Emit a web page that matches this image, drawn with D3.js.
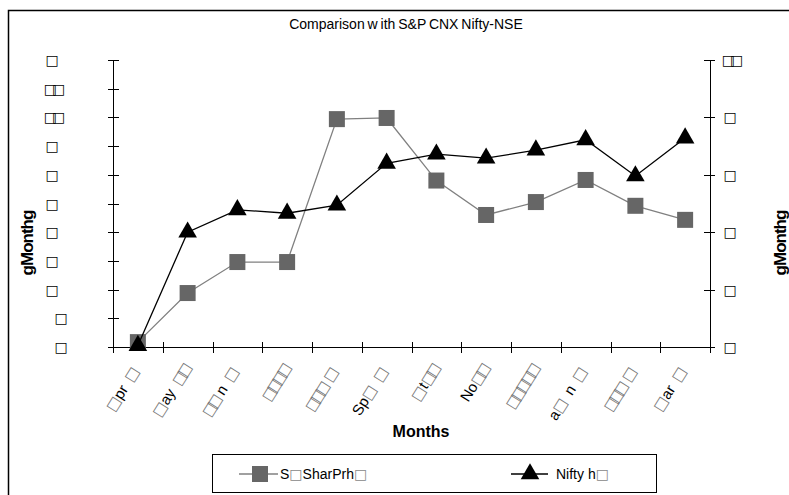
<!DOCTYPE html>
<html>
<head>
    <title>Comparison with S&P CNX Nifty-NSE</title>
    <script src="https://d3js.org/d3.v7.min.js"></script>
    <style>
        body {
            margin: 0;
            background: #fff;
            font-family: "Liberation Sans", Arial, sans-serif;
        }
        text {
            font-family: "Liberation Sans", Arial, sans-serif;
        }
    </style>
</head>
<body>
<div id="chart"></div>
<script>
    // data
    const BOX = "\u25A1";
    const months = ["Apr", "May", "Jun", "Jul", "Aug", "Sep", "Oct", "Nov", "Dec", "Jan", "Feb", "Mar"];
    // tick labels as they appear ('#' = missing glyph shown as a box)
    const monthLabels = ["#pr #", "#ay ##", "## n #", "####", "### #", "Sp# #",
        "#t##", "No##", "#####", "a# n #", "### #", "#ar #"];
    const sharePrice = [0.17, 1.88, 2.96, 2.96, 7.94, 7.98, 5.8, 4.6, 5.05, 5.82, 4.92, 4.43];
    const nifty = [0.05, 4.0, 4.78, 4.66, 4.94, 6.4, 6.72, 6.58, 6.86, 7.22, 5.96, 7.28];

    const leftTicks = [0, 1, 2, 3, 4, 5, 6, 7, 8, 9, 10];
    const leftTickLabels = ["#", "#", "#", "#", "#", "#", "#", "#", "##", "##", "#"];
    const rightTicks = [0, 2, 4, 6, 8, 10];
    const rightTickLabels = ["#", "#", "#", "#", "#", "##"];

    const width = 789, height = 495;
    const plot = { left: 113, right: 710, top: 60, bottom: 347 };

    const svg = d3.select("#chart")
        .append("svg")
        .attr("width", width)
        .attr("height", height);

    // writes a label into a text node, '#' standing for a missing glyph box
    function fillLabel(t, s, boxColor) {
        s.split(/(#+)/).filter(p => p.length).forEach(p => {
            const isBox = p[0] === "#";
            t.append("tspan")
                .attr("fill", isBox ? boxColor : "#000")
                .style("font-family", isBox ? "DejaVu Sans" : null)
                .style("letter-spacing", isBox && p.length > 1 ? "-5px" : null)
                .text(isBox ? p.replace(/#/g, BOX) : p);
        });
    }

    // outer frame (only top and left edges show)
    svg.append("path")
        .attr("d", `M8.5,${height}V10.5H${width}`)
        .attr("fill", "none")
        .attr("stroke", "#000")
        .attr("stroke-width", 1.5);

    const x = d3.scaleBand().domain(months).range([plot.left, plot.right]);
    const yLeft = d3.scaleLinear().domain([0, 10]).range([plot.bottom, plot.top]);
    const yRight = d3.scaleLinear().domain([0, 10]).range([plot.bottom, plot.top]);

    // title
    svg.append("text")
        .attr("x", 406)
        .attr("y", 29)
        .attr("text-anchor", "middle")
        .style("font-size", "14px")
        .style("word-spacing", "-1px")
        .text("Comparison w ith S&P CNX Nifty-NSE");

    // left axis
    const gl = svg.append("g");
    gl.append("line")
        .attr("x1", plot.left + 0.5).attr("x2", plot.left + 0.5)
        .attr("y1", plot.top).attr("y2", plot.bottom)
        .attr("stroke", "#000");
    gl.selectAll(".tick")
        .data(leftTicks)
        .enter()
        .append("line")
        .attr("x1", plot.left - 5).attr("x2", plot.left + 6)
        .attr("y1", d => Math.round(yLeft(d)) + 0.5)
        .attr("y2", d => Math.round(yLeft(d)) + 0.5)
        .attr("stroke", "#000");
    gl.selectAll("text")
        .data(leftTicks)
        .enter()
        .append("text")
        .attr("x", d => d < 2 ? 61 : 52)
        .attr("y", d => yLeft(d) + 5)
        .attr("text-anchor", "middle")
        .style("font-size", "14px")
        .each(function (d, i) { fillLabel(d3.select(this), leftTickLabels[i], "#000"); });

    // right axis
    const gr = svg.append("g");
    gr.append("line")
        .attr("x1", plot.right + 0.5).attr("x2", plot.right + 0.5)
        .attr("y1", plot.top).attr("y2", plot.bottom)
        .attr("stroke", "#000");
    gr.selectAll(".tick")
        .data(rightTicks)
        .enter()
        .append("line")
        .attr("x1", plot.right - 6).attr("x2", plot.right + 5)
        .attr("y1", d => Math.round(yRight(d)) + 0.5)
        .attr("y2", d => Math.round(yRight(d)) + 0.5)
        .attr("stroke", "#000");
    gr.selectAll("text")
        .data(rightTicks)
        .enter()
        .append("text")
        .attr("x", 730)
        .attr("y", d => yRight(d) + 5)
        .attr("text-anchor", "middle")
        .style("font-size", "14px")
        .each(function (d, i) { fillLabel(d3.select(this), rightTickLabels[i], "#000"); });

    // x axis
    const gx = svg.append("g");
    gx.append("line")
        .attr("x1", plot.left).attr("x2", plot.right + 5)
        .attr("y1", plot.bottom + 0.5).attr("y2", plot.bottom + 0.5)
        .attr("stroke", "#000");
    const bounds = months.map(m => x(m)).concat([plot.right]);
    gx.selectAll(".tick")
        .data(bounds)
        .enter()
        .append("line")
        .attr("x1", d => Math.round(d) + 0.5).attr("x2", d => Math.round(d) + 0.5)
        .attr("y1", plot.bottom - 5).attr("y2", plot.bottom + 6)
        .attr("stroke", "#000");
    gx.selectAll("text")
        .data(months)
        .enter()
        .append("text")
        .attr("transform", d => `translate(${x(d) + x.bandwidth() / 2 + 2},${plot.bottom + 24}) rotate(-58)`)
        .attr("text-anchor", "end")
        .style("font-size", "15px")
        .style("word-spacing", "3px")
        .each(function (d, i) { fillLabel(d3.select(this), monthLabels[i], "#777"); });

    // axis titles
    svg.append("text")
        .attr("x", 421)
        .attr("y", 437)
        .attr("text-anchor", "middle")
        .style("font-size", "16px")
        .style("font-weight", "bold")
        .text("Months");
    svg.append("text")
        .attr("transform", "translate(33,243) rotate(-90)")
        .attr("text-anchor", "middle")
        .style("font-size", "17px")
        .style("font-weight", "bold")
        .style("letter-spacing", "-1px")
        .text("gMonthg");
    svg.append("text")
        .attr("transform", "translate(786,243) rotate(-90)")
        .attr("text-anchor", "middle")
        .style("font-size", "17px")
        .style("font-weight", "bold")
        .style("letter-spacing", "-1px")
        .text("gMonthg");

    const cx = d => x(d) + x.bandwidth() / 2;

    // share price series (left axis)
    const lineL = d3.line().x((d, i) => cx(months[i])).y(d => yLeft(d));
    svg.append("path")
        .datum(sharePrice)
        .attr("d", lineL)
        .attr("fill", "none")
        .attr("stroke", "#808080")
        .attr("stroke-width", 1.3);
    svg.selectAll(".sq")
        .data(sharePrice)
        .enter()
        .append("rect")
        .attr("x", (d, i) => cx(months[i]) - 8)
        .attr("y", d => yLeft(d) - 8)
        .attr("width", 16)
        .attr("height", 16)
        .attr("fill", "#666");

    // nifty series (right axis)
    const lineR = d3.line().x((d, i) => cx(months[i])).y(d => yRight(d));
    svg.append("path")
        .datum(nifty)
        .attr("d", lineR)
        .attr("fill", "none")
        .attr("stroke", "#000")
        .attr("stroke-width", 1.3);
    const tri = d3.symbol().type(d3.symbolTriangle).size(150);
    svg.selectAll(".tri")
        .data(nifty)
        .enter()
        .append("path")
        .attr("d", tri)
        .attr("transform", (d, i) => `translate(${cx(months[i])},${yRight(d)})`)
        .attr("fill", "#000");

    // legend
    const lg = svg.append("g");
    lg.append("rect")
        .attr("x", 212.5).attr("y", 454.5)
        .attr("width", 444).attr("height", 38)
        .attr("fill", "#fff")
        .attr("stroke", "#000");
    lg.append("line")
        .attr("x1", 239).attr("x2", 278).attr("y1", 474).attr("y2", 474)
        .attr("stroke", "#808080").attr("stroke-width", 1.3);
    lg.append("rect")
        .attr("x", 252).attr("y", 466).attr("width", 16).attr("height", 16)
        .attr("fill", "#666");
    fillLabel(lg.append("text").attr("x", 280).attr("y", 479).style("font-size", "14px"), "S#SharPrh#", "#888");
    lg.append("line")
        .attr("x1", 511).attr("x2", 548).attr("y1", 474).attr("y2", 474)
        .attr("stroke", "#000").attr("stroke-width", 1.3);
    lg.append("path")
        .attr("d", tri)
        .attr("transform", "translate(530,474)")
        .attr("fill", "#000");
    fillLabel(lg.append("text").attr("x", 556).attr("y", 479).style("font-size", "14px"), "Nifty h#", "#888");
</script>
</body>
</html>
